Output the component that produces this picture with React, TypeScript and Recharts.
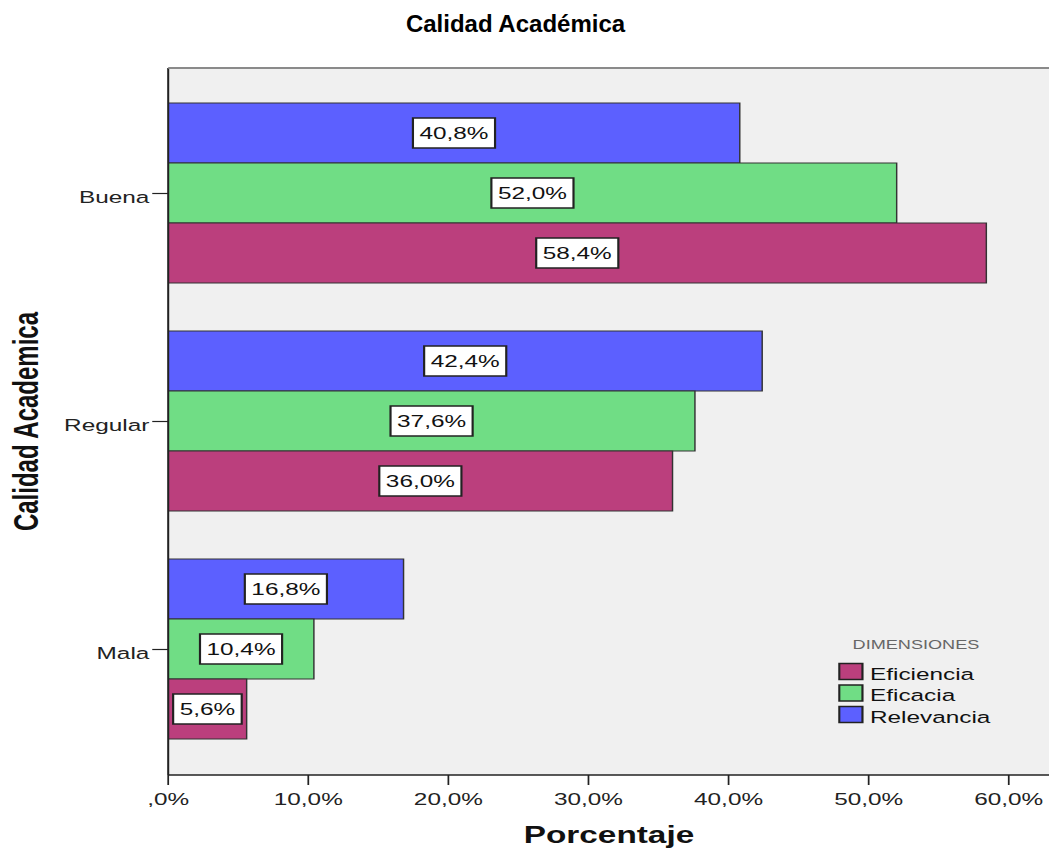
import React from 'react';
import { BarChart, Bar, XAxis, YAxis, CartesianGrid, Legend, LabelList } from 'recharts';

const categories = ['Buena', 'Regular', 'Mala'];
const relevancia = [40.8, 42.4, 16.8];
const eficacia = [52.0, 37.6, 10.4];
const eficiencia = [58.4, 36.0, 5.6];
const xTicks = [0, 10, 20, 30, 40, 50, 60];
const legendOrder = ['Eficiencia', 'Eficacia', 'Relevancia'];

const FONT = '"Liberation Sans", Arial, sans-serif';
const STRETCH = 1.45; // the source picture is stretched sideways
const TICK_FONT = 16.8;
const PLOT_TOP = 68;
const PLOT_LEFT = 116;

const data = categories.map((name, i) => ({
  name,
  Relevancia: relevancia[i],
  Eficacia: eficacia[i],
  Eficiencia: eficiencia[i],
}));

const fmt = (v: number) => (v === 0 ? ',0%' : v.toFixed(1).replace('.', ',') + '%');

// rough Arial widths, good enough to size the label boxes
const textWidth = (s: string, size: number) =>
  s.split('').reduce((w, c) => w + (c === ',' ? 0.278 : c === '%' ? 0.889 : 0.556), 0) * size;

const BoxLabel = (props: any) => {
  const { x, y, width, height, value } = props;
  const cx = x + width / 2;
  const cy = y + height / 2;
  const t = fmt(value);
  const w = textWidth(t, TICK_FONT) + 9;
  return (
    <g>
      <rect x={cx - w / 2} y={cy - 15} width={w} height={30} fill="#fff" stroke="#222" strokeWidth={1.5} />
      <text x={cx} y={cy + 6} textAnchor="middle" fontFamily={FONT} fontSize={TICK_FONT} fill="#111">
        {t}
      </text>
    </g>
  );
};

const YTick = (props: any) => {
  const { x, y, payload } = props;
  return (
    <text x={x} y={y + 10} textAnchor="end" fontFamily={FONT} fontSize={TICK_FONT} fill="#222">
      {payload.value}
    </text>
  );
};

const XTick = (props: any) => {
  const { x, y, payload } = props;
  return (
    <text x={x} y={y + 20} textAnchor="middle" fontFamily={FONT} fontSize={TICK_FONT} fill="#222">
      {fmt(payload.value)}
    </text>
  );
};

const YLabel = (props: any) => {
  const vb = props.viewBox;
  const lx = vb.x + 26;
  const ly = vb.y + vb.height / 2;
  return (
    <text
      x={lx}
      y={ly}
      transform={`rotate(-90, ${lx}, ${ly})`}
      textAnchor="middle"
      fontFamily={FONT}
      fontWeight="bold"
      fontSize={24}
      fill="#111"
    >
      Calidad Academica
    </text>
  );
};

const XLabel = (props: any) => {
  const vb = props.viewBox;
  return (
    <text
      x={vb.x + vb.width / 2}
      y={843}
      textAnchor="middle"
      fontFamily={FONT}
      fontWeight="bold"
      fontSize={23}
      fill="#111"
    >
      Porcentaje
    </text>
  );
};

const LegendBox = (props: any) => {
  const items = [...(props.payload || [])].sort(
    (a: any, b: any) => legendOrder.indexOf(a.value) - legendOrder.indexOf(b.value)
  );
  return (
    <svg width={150} height={100} style={{ display: 'block' }}>
      <text x={10} y={15} fontFamily={FONT} fontSize={12.5} fill="#666">
        DIMENSIONES
      </text>
      {items.map((it: any, i: number) => (
        <g key={it.value}>
          <rect x={0.8} y={29.5 + i * 21.5} width={16} height={16} fill={it.color} stroke="#222" strokeWidth={1.5} />
          <text x={22} y={46 + i * 21.5} fontFamily={FONT} fontSize={TICK_FONT} fill="#111">
            {it.value}
          </text>
        </g>
      ))}
    </svg>
  );
};

export default function App() {
  return (
    <div style={{ position: 'absolute', left: 0, top: 0, width: 1049, height: 850, overflow: 'hidden', background: '#fff' }}>
      <div
        style={{
          position: 'absolute',
          left: 0,
          top: 0,
          width: 724,
          height: 850,
          transform: `scaleX(${STRETCH})`,
          transformOrigin: '0 0',
        }}
      >
        <BarChart
          layout="vertical"
          width={724}
          height={850}
          data={data}
          margin={{ top: PLOT_TOP, right: 0, bottom: 0, left: 0 }}
          barCategoryGap={23.5}
          barGap={0}
        >
          <CartesianGrid fill="#f0f0f0" vertical={false} horizontal={false} />
          <XAxis
            type="number"
            domain={[0, 62.93]}
            ticks={xTicks}
            allowDataOverflow
            height={75}
            axisLine={{ stroke: '#222', strokeWidth: 1.5 }}
            tickLine={{ stroke: '#222', strokeWidth: 1.2 }}
            tickSize={10}
            tickMargin={0}
            tick={<XTick />}
            label={<XLabel />}
          />
          <YAxis
            type="category"
            dataKey="name"
            width={PLOT_LEFT}
            padding={{ top: 11.5, bottom: 11.5 }}
            axisLine={{ stroke: '#222', strokeWidth: 1.4 }}
            tickLine={{ stroke: '#222', strokeWidth: 1.2 }}
            tickSize={11}
            tickMargin={2}
            tick={<YTick />}
            label={<YLabel />}
          />
          <Legend
            layout="vertical"
            align="center"
            verticalAlign="middle"
            content={<LegendBox />}
            wrapperStyle={{ left: 578, top: 634, width: 150, height: 100 }}
          />
          <Bar dataKey="Relevancia" fill="#5c60ff" stroke="#333" strokeWidth={1} isAnimationActive={false}>
            <LabelList dataKey="Relevancia" content={<BoxLabel />} />
          </Bar>
          <Bar dataKey="Eficacia" fill="#70dd85" stroke="#333" strokeWidth={1} isAnimationActive={false}>
            <LabelList dataKey="Eficacia" content={<BoxLabel />} />
          </Bar>
          <Bar dataKey="Eficiencia" fill="#bb3f7d" stroke="#333" strokeWidth={1} isAnimationActive={false}>
            <LabelList dataKey="Eficiencia" content={<BoxLabel />} />
          </Bar>
        </BarChart>
        {/* frame line along the top of the plot area */}
        <div
          style={{
            position: 'absolute',
            left: PLOT_LEFT,
            top: PLOT_TOP - 1,
            width: 724 - PLOT_LEFT,
            height: 2,
            background: '#8a8a8a',
          }}
        />
      </div>
      <svg width={1049} height={50} style={{ position: 'absolute', left: 0, top: 0 }}>
        <text x={515.5} y={32} textAnchor="middle" fontFamily={FONT} fontWeight="bold" fontSize={24} fill="#000">
          Calidad Académica
        </text>
      </svg>
    </div>
  );
}
